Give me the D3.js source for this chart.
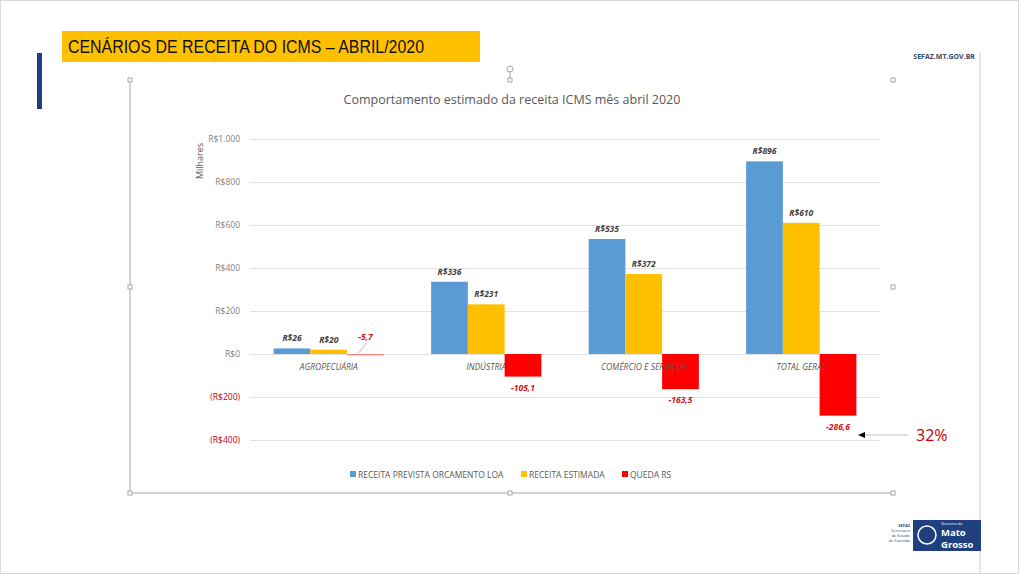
<!DOCTYPE html>
<html>
<head>
<meta charset="utf-8">
<script src="https://cdn.jsdelivr.net/npm/d3@7/dist/d3.min.js"></script>
<style>
  body { margin: 0; background: #fff; }
  svg { display: block; font-family: "Open Sans", "DejaVu Sans", sans-serif; }
</style>
</head>
<body>
<svg id="slide" width="1024" height="574"></svg>
<script>
// dados do gráfico (milhares de R$)
var categorias = ['AGROPECUÁRIA', 'INDÚSTRIA', 'COMÉRCIO E SERVIÇOS', 'TOTAL GERAL'];
var series = ['RECEITA PREVISTA ORCAMENTO LOA', 'RECEITA ESTIMADA', 'QUEDA RS'];
var prevista = [26, 336, 535, 896];
var estimada = [20, 231, 372, 610];
var queda = [-5.7, -105.1, -163.5, -286.6];
var yTicks = [-400, -200, 0, 200, 400, 600, 800, 1000];
var cores = ['#5B9BD5', '#FFC000', '#FF0000'];

var svg = d3.select('#slide');

// moldura do slide
svg.append('rect').attr('x', 0.5).attr('y', 0.5).attr('width', 1018).attr('height', 573)
  .attr('fill', 'none').attr('stroke', '#d9d9d9');
svg.append('line').attr('x1', 980).attr('x2', 980).attr('y1', 52).attr('y2', 574)
  .attr('stroke', '#dcdce8').attr('stroke-width', 1.5);

// faixa de título
svg.append('rect').attr('x', 62).attr('y', 31).attr('width', 418).attr('height', 31).attr('fill', '#FFC000');
svg.append('text').attr('x', 68).attr('y', 53)
  .attr('font-family', '"Liberation Sans Narrow", "Liberation Sans", sans-serif')
  .attr('font-size', 18).attr('fill', '#111')
  .attr('textLength', 356).attr('lengthAdjust', 'spacingAndGlyphs')
  .text('CENÁRIOS DE RECEITA DO ICMS – ABRIL/2020');
svg.append('rect').attr('x', 37).attr('y', 53).attr('width', 5).attr('height', 56).attr('fill', '#1F3F7F');
svg.append('text').attr('x', 975).attr('y', 59).attr('text-anchor', 'end')
  .attr('font-size', 7).attr('font-weight', 'bold').attr('fill', '#3a4a6a')
  .text('SEFAZ.MT.GOV.BR');

// caixa de seleção do gráfico
var frame = svg.append('g').attr('stroke', '#a6a6a6').attr('fill', 'none');
frame.append('line').attr('x1', 130).attr('x2', 130).attr('y1', 80).attr('y2', 493);
frame.append('line').attr('x1', 130).attr('x2', 893).attr('y1', 493).attr('y2', 493);
frame.append('line').attr('x1', 510).attr('x2', 510).attr('y1', 72).attr('y2', 80);
frame.append('circle').attr('cx', 510).attr('cy', 69).attr('r', 3);
[[130, 80], [510, 80], [893, 80], [130, 287], [893, 287], [130, 493], [510, 493], [893, 493]].forEach(function(p) {
  frame.append('rect').attr('x', p[0] - 2).attr('y', p[1] - 2).attr('width', 4).attr('height', 4)
    .attr('fill', '#fff');
});

// título do gráfico
svg.append('text').attr('x', 512).attr('y', 104).attr('text-anchor', 'middle')
  .attr('font-size', 12.5).attr('fill', '#595959')
  .text('Comportamento estimado da receita ICMS mês abril 2020');

// escalas
var y = d3.scaleLinear().domain([-400, 1000]).range([440, 139]);
var x0 = d3.scaleBand().domain(categorias).range([250, 880]).paddingInner(0.3).paddingOuter(0.15);
var x1 = d3.scaleBand().domain(series).range([0, x0.bandwidth()]);

// grade
svg.append('g').selectAll('line').data(yTicks).enter().append('line')
  .attr('x1', 250).attr('x2', 880)
  .attr('y1', function(d) { return y(d) + 0.5; }).attr('y2', function(d) { return y(d) + 0.5; })
  .attr('stroke', '#e3e3e3');

// eixo y
function fmt(d) {
  var s = 'R$' + d3.format(',')(Math.abs(d)).replace(/,/g, '.');
  return d < 0 ? '(' + s + ')' : s;
}
var yAxis = svg.append('g').attr('transform', 'translate(240,0)')
  .call(d3.axisLeft(y).tickValues(yTicks).tickFormat(fmt).tickSize(0).tickPadding(0));
yAxis.select('.domain').remove();
yAxis.selectAll('text').attr('font-size', 8.5).attr('font-family', '"Open Sans", sans-serif')
  .attr('fill', function(d) { return d < 0 ? '#C00000' : '#7f7f7f'; });

svg.append('text').attr('transform', 'translate(203,161) rotate(-90)').attr('text-anchor', 'middle')
  .attr('font-size', 9).attr('fill', '#595959').text('Milhares');

// barras
var dados = categorias.map(function(c, i) {
  return { cat: c, vals: [prevista[i], estimada[i], queda[i]] };
});
var grupos = svg.append('g').selectAll('g').data(dados).enter().append('g')
  .attr('transform', function(d) { return 'translate(' + x0(d.cat) + ',0)'; });

function itens(d) {
  return d.vals.map(function(v, j) { return { s: series[j], v: v, j: j }; });
}

grupos.selectAll('rect').data(itens).enter().append('rect')
  .attr('x', function(d) { return x1(d.s); })
  .attr('y', function(d) { return y(Math.max(0, d.v)); })
  .attr('width', x1.bandwidth())
  .attr('height', function(d) { return Math.max(1.5, Math.abs(y(d.v) - y(0))); })
  .attr('fill', function(d) { return cores[d.j]; })
  .attr('opacity', function(d) { return Math.abs(d.v) < 10 && d.v < 0 ? 0.4 : 1; });

// rótulos das barras
grupos.selectAll('text.val').data(itens).enter().append('text')
  .attr('class', 'val')
  .attr('x', function(d) { return x1(d.s) + x1.bandwidth() / 2; })
  .attr('y', function(d) {
    if (d.v >= 0) return y(d.v) - 7;
    if (Math.abs(d.v) < 10) return y(0) - 14;
    return y(d.v) + 14;
  })
  .attr('text-anchor', 'middle')
  .attr('font-size', 8.5).attr('font-style', 'italic').attr('font-weight', 'bold')
  .attr('fill', function(d) { return d.v < 0 ? '#D01010' : '#404040'; })
  .text(function(d) {
    return d.v < 0 ? '-' + d3.format('.1f')(-d.v).replace('.', ',') : 'R$' + d.v;
  });

// linha de chamada do rótulo pequeno
grupos.filter(function(d) { return Math.abs(d.vals[2]) < 10; }).append('line')
  .attr('x1', x1(series[2]) + x1.bandwidth() / 2 + 1).attr('y1', y(0) - 11)
  .attr('x2', x1(series[2]) + x1.bandwidth() / 2 - 7).attr('y2', y(0) - 1)
  .attr('stroke', '#e8b0b0');

// categorias
grupos.append('text')
  .attr('x', x0.bandwidth() / 2).attr('y', y(0) + 16)
  .attr('text-anchor', 'middle').attr('font-size', 8.5).attr('font-style', 'italic')
  .attr('fill', '#595959').text(function(d) { return d.cat; });

// legenda
var legX = [350, 521, 622];
var leg = svg.append('g').selectAll('g').data(series).enter().append('g')
  .attr('transform', function(d, i) { return 'translate(' + legX[i] + ',476)'; });
leg.append('rect').attr('x', 0).attr('y', -5).attr('width', 6).attr('height', 6)
  .attr('fill', function(d, i) { return cores[i]; });
leg.append('text').attr('x', 8).attr('y', 1.5).attr('font-size', 8.5).attr('fill', '#595959')
  .text(function(d) { return d; });

// seta e percentual
svg.append('line').attr('x1', 908).attr('x2', 864).attr('y1', 435).attr('y2', 435)
  .attr('stroke', '#bfbfbf');
svg.append('path').attr('d', 'M858,435 L865,432 L865,438 Z').attr('fill', '#000');
svg.append('text').attr('x', 916).attr('y', 441).attr('font-size', 16).attr('fill', '#C00000').text('32%');

// logotipo
var logo = svg.append('g');
logo.append('text').attr('x', 910).attr('y', 527).attr('text-anchor', 'end').attr('font-size', 4).attr('font-weight', 'bold').attr('fill', '#1F3F7F').text('SEFAZ');
['Secretaria', 'de Estado', 'de Fazenda'].forEach(function(t, i) {
  logo.append('text').attr('x', 910).attr('y', 532 + i * 5).attr('text-anchor', 'end').attr('font-size', 4).attr('fill', '#1F3F7F').text(t);
});
logo.append('rect').attr('x', 913).attr('y', 520).attr('width', 68).attr('height', 31).attr('fill', '#1F3F7F');
logo.append('circle').attr('cx', 927).attr('cy', 535).attr('r', 9).attr('fill', 'none').attr('stroke', '#fff').attr('stroke-width', 1.5);
logo.append('text').attr('x', 941).attr('y', 525).attr('font-size', 4).attr('fill', '#fff').text('Governo de');
logo.append('text').attr('x', 941).attr('y', 536).attr('font-size', 9.5).attr('font-weight', 'bold').attr('fill', '#fff').text('Mato');
logo.append('text').attr('x', 941).attr('y', 548).attr('font-size', 9.5).attr('font-weight', 'bold').attr('fill', '#fff').text('Grosso');
</script>
</body>
</html>
